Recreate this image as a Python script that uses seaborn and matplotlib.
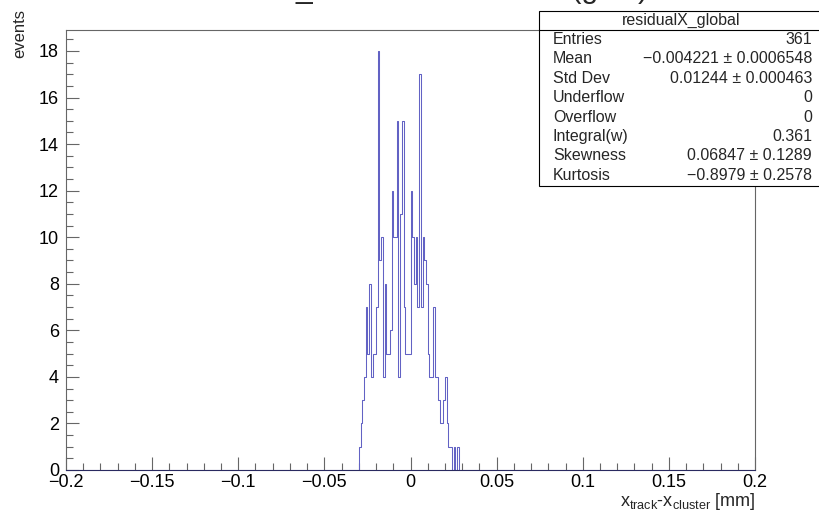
import numpy as np
import pandas as pd
import matplotlib
matplotlib.use("Agg")
import matplotlib.pyplot as plt
import seaborn as sns
from matplotlib.patches import Rectangle
from matplotlib.ticker import MultipleLocator, FuncFormatter

### histogram content (400 bins of 0.001 mm from -0.2 to 0.2) ###
first_filled_edge = -0.030
counts = [
    1, 2, 3, 4, 7, 5, 8, 4, 5, 5,
    7, 18, 9, 10, 4, 8, 5, 5, 6, 12,
    10, 10, 15, 4, 11, 15, 7, 5, 5, 5,
    12, 10, 8, 10, 7, 17, 7, 10, 9, 8,
    5, 4, 4, 7, 4, 4, 3, 2, 2, 3,
    4, 2, 1, 1, 0, 1, 0, 1,
]
x_range = (-0.2, 0.2)
n_bins = 400

stats_title = "residualX_global"
stats_names = ["Entries", "Mean", "Std Dev", "Underflow", "Overflow",
               "Integral(w)", "Skewness", "Kurtosis"]
stats_values = ["361", "\u22120.004221 \u00b1 0.0006548", "0.01244 \u00b1 0.000463",
                "0", "0", "0.361", "0.06847 \u00b1 0.1289", "\u22120.8979 \u00b1 0.2578"]

# the canvas title sits almost fully above the picture, only its descenders show
title = "residualX_track minus cluster (glob)"
xlabel = r"x$_{\mathrm{track}}$-x$_{\mathrm{cluster}}$ [mm]"
ylabel = "events"

### style ###
sns.set_style("ticks")
plt.rcParams["font.family"] = ["Liberation Sans", "DejaVu Sans"]
plt.rcParams["mathtext.fontset"] = "custom"
plt.rcParams["mathtext.rm"] = "Liberation Sans"
plt.rcParams["mathtext.it"] = "Liberation Sans:italic"
frame_col = "#666666"
hist_col = "#6262c4"

W, H = 819, 515
fig = plt.figure(figsize=(W / 100, H / 100), dpi=100)
ax = fig.add_axes([66 / W, 1 - 470 / H, (755 - 66) / W, (470 - 30) / H])

width = (x_range[1] - x_range[0]) / n_bins
df = pd.DataFrame({
    "x": first_filled_edge + (np.arange(len(counts)) + 0.5) * width,
    "w": counts,
})

sns.histplot(
    data=df,
    x="x",
    weights="w",
    bins=n_bins,
    binrange=x_range,
    element="step",
    fill=False,
    color=hist_col,
    linewidth=0.75,
    ax=ax,
)

ax.set_xlim(*x_range)
ax.set_ylim(0, 1.05 * max(counts))
ax.set_xlabel("")
ax.set_ylabel("")

ax.xaxis.set_major_locator(MultipleLocator(0.05))
ax.xaxis.set_minor_locator(MultipleLocator(0.01))
ax.yaxis.set_major_locator(MultipleLocator(2))
ax.yaxis.set_minor_locator(MultipleLocator(0.5))
ax.xaxis.set_major_formatter(FuncFormatter(lambda v, p: ("%g" % round(v, 3)).replace("-", "\u2212")))
ax.yaxis.set_major_formatter(FuncFormatter(lambda v, p: "%g" % v))

ax.tick_params(which="both", direction="in", color=frame_col, width=0.8,
               labelsize=13, labelcolor="black")
ax.tick_params(which="major", length=9.5)
ax.tick_params(which="minor", length=4.8)
ax.tick_params(axis="x", pad=3)
ax.tick_params(axis="y", pad=5)
for side in ["top", "bottom", "left", "right"]:
    ax.spines[side].set_color(frame_col)
    ax.spines[side].set_linewidth(0.8)
ax.spines["bottom"].set_color("#2a2a60")

## axis titles, ROOT style (aligned to the axis ends)
fig.text(755 / W, 1 - 502 / H, xlabel, ha="right", va="center", fontsize=13)
fig.text(20 / W, 1 - 9 / H, ylabel, ha="center", va="top", rotation=90, fontsize=12)

## canvas title
fig.text(409.5 / W, 1 + 2 / H, title, ha="center", va="baseline", fontsize=21.6)

## stats box
box_l, box_r, box_t, box_b = 539, 823, 11, 186
fig.patches.append(Rectangle(
    (box_l / W, 1 - box_b / H), (box_r - box_l) / W, (box_b - box_t) / H,
    transform=fig.transFigure, facecolor="white", edgecolor="black",
    linewidth=0.8, zorder=5, clip_on=False,
))
fig.add_artist(plt.Line2D([box_l / W, box_r / W], [1 - 30 / H, 1 - 30 / H],
                          transform=fig.transFigure, color="black",
                          linewidth=0.8, zorder=6))
fig.text(681 / W, 1 - 20.5 / H, stats_title, ha="center", va="center",
         fontsize=11.5, zorder=7)
row0, drow = 39.5, 19.4
for k, (name, val) in enumerate(zip(stats_names, stats_values)):
    y = 1 - (row0 + k * drow) / H
    fig.text(553 / W, y, name, ha="left", va="center", fontsize=11.5, zorder=7)
    fig.text(812 / W, y, val, ha="right", va="center", fontsize=11.5, zorder=7)

fig.savefig("out.png", dpi=100)
